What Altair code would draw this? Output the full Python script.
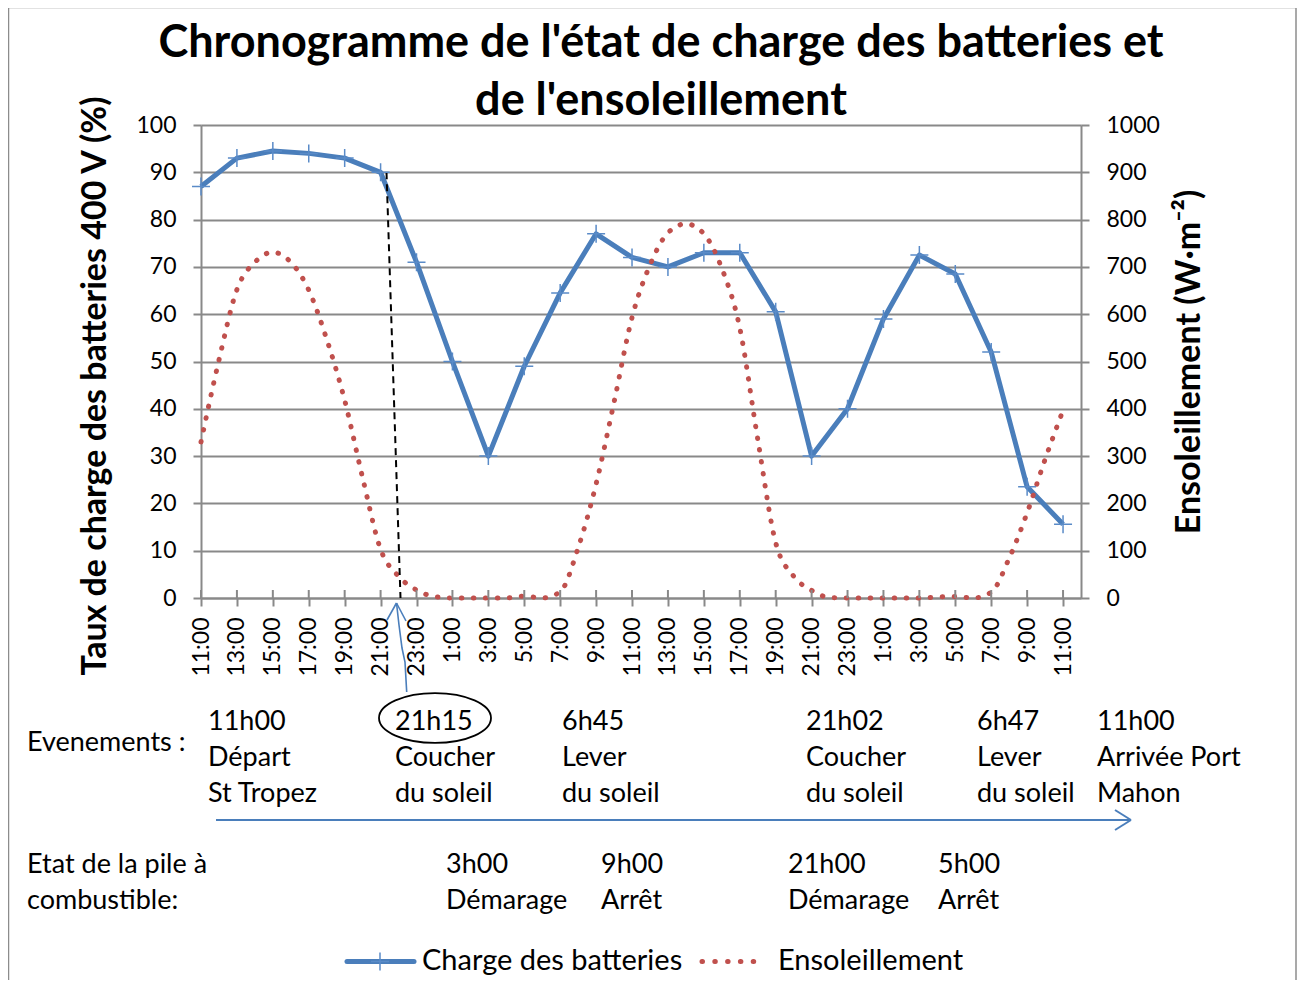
import altair as alt
import pandas as pd

# ------------------------------------------------------------------ data
x_labels = ["11:00", "13:00", "15:00", "17:00", "19:00", "21:00", "23:00", "1:00",
            "3:00", "5:00", "7:00", "9:00", "11:00", "13:00", "15:00", "17:00",
            "19:00", "21:00", "23:00", "1:00", "3:00", "5:00", "7:00", "9:00", "11:00"]
battery_hours = list(range(0, 49, 2))
battery_charge = [87, 93, 94.5, 94, 93, 90, 71, 50, 30, 49, 64.5, 77,
                  72, 70, 73, 73, 60.5, 30, 40, 59, 72.5, 68.5, 52, 23.5, 15.6]
sun_hours = list(range(0, 49))
sunlight = [330, 503, 652, 710, 731, 710, 651, 547, 418, 254, 103, 46, 17, 3, 0, 0,
            0, 0, 4, 0, 13, 106, 241, 414, 593, 704, 772, 791, 770, 697, 571, 336,
            117, 46, 16, 1, 0, 0, 0, 0, 0, 2, 3, 0, 12, 84, 180, 293, 397]

title_lines = ["Chronogramme de l'état de charge des batteries et", "de l'ensoleillement"]
y_left_title = "Taux de charge des batteries 400 V (%)"
y_right_title = "Ensoleillement (W·m⁻²)"
events_label = "Evenements :"
events = [["11h00", "Départ", " St Tropez"], ["21h15", "Coucher", "du soleil"],
          ["6h45", "Lever", "du soleil"], ["21h02", "Coucher", "du soleil"],
          ["6h47", "Lever", "du soleil"], ["11h00", "Arrivée Port", "Mahon"]]
pile_label = ["Etat de la pile à", "combustible:"]
pile = [["3h00", "Démarage"], ["9h00", "Arrêt"], ["21h00", "Démarage"], ["5h00", "Arrêt"]]
legend_names = ["Charge des batteries", "Ensoleillement"]

# ------------------------------------------------------------------ layout helpers (page pixels -> data units)
W, H = 880, 473
X0, Y0 = 201, 125
H_DOMAIN = [0, 49]
def hx(px):
    return (px - X0) / (W / H_DOMAIN[1])
def vy(py):
    return (Y0 + H - py) / (H / 100.0)

BLUE = "#4A7EBB"
RED = "#C0504D"
GRID = "#898989"
FONT = "Lato"

def xscale():
    return alt.Scale(domain=H_DOMAIN, nice=False, zero=False)

def yscale():
    return alt.Scale(domain=[0, 100], nice=False, zero=False)

label_arr = "[" + ",".join("'%s'" % s for s in x_labels) + "]"

bat_df = pd.DataFrame({"h": battery_hours, "v": battery_charge})
sun_df = pd.DataFrame({"h": sun_hours, "w": sunlight})

x_main = alt.X("h:Q", scale=xscale(),
               axis=alt.Axis(values=battery_hours, labelExpr=label_arr + "[round(datum.value/2)]",
                             labelAngle=270, grid=False, tickSize=8, tickColor=GRID, tickWidth=2,
                             domainColor=GRID, domainWidth=2, labelPadding=11, labelFontSize=23,
                             labelFont=FONT, labelColor="black", title=None, labelOverlap=False,
                             labelFlush=False, orient="bottom"))
y_main = alt.Y("v:Q", scale=yscale(),
               axis=alt.Axis(values=list(range(0, 101, 10)), grid=True, gridColor=GRID, gridWidth=2,
                             tickSize=8, tickColor=GRID, tickWidth=2, domainColor=GRID, domainWidth=2,
                             labelPadding=17, labelFontSize=23, labelFont=FONT, labelColor="black",
                             title=None, orient="left", labelOverlap=False, labelFlush=False))

bat_line = alt.Chart(bat_df).mark_line(color=BLUE, strokeWidth=5, strokeJoin="round").encode(x=x_main, y=y_main)

def ax(field):
    return alt.X(field, type="quantitative", scale=xscale(), axis=None)
def ay(field):
    return alt.Y(field, type="quantitative", scale=yscale(), axis=None)

PLUS = "M-1,0H1M0,-1V1"
bat_pts = alt.Chart(bat_df).mark_point(shape=PLUS, size=324, filled=False, strokeWidth=1.5,
                                       color="#5A8BC8", opacity=1).encode(x=ax("h"), y=ay("v"))

# inner part of x-axis ticks
tick_df = pd.DataFrame({"h": battery_hours, "v": [0] * len(battery_hours),
                        "v2": [vy(590)] * len(battery_hours)})
inner_ticks = alt.Chart(tick_df).mark_rule(color=GRID, strokeWidth=2).encode(
    x=ax("h"), y=ay("v"), y2="v2")

# dashed sunset line
dash_df = pd.DataFrame({"h": [hx(386.5)], "v": [90], "h2": [hx(400.5)], "v2": [0]})
dash_rule = alt.Chart(dash_df).mark_rule(color="black", strokeWidth=2, strokeDash=[7, 5]).encode(
    x=ax("h"), y=ay("v"), x2="h2", y2="v2")

# sunlight
sun_line = alt.Chart(sun_df).mark_line(color=RED, strokeWidth=5, strokeDash=[0.5, 11.5],
                                       strokeCap="round", interpolate="monotone").encode(
    x=ax("h"),
    y=alt.Y("w:Q", scale=alt.Scale(domain=[0, 1000], nice=False, zero=False),
            axis=alt.Axis(values=list(range(0, 1001, 100)), format="d", grid=False, tickSize=8,
                          tickColor=GRID, tickWidth=2, domainColor=GRID, domainWidth=2, labelPadding=17,
                          labelFontSize=23, labelFont=FONT, labelColor="black", title=None,
                          orient="right", labelOverlap=False, labelFlush=False)))

# ------------------------------------------------------------------ texts
texts_normal = []
ev_x = [208, 395, 562, 806, 977, 1097]
for (col, xx) in zip(events, ev_x):
    for i, line in enumerate(col):
        texts_normal.append((line, xx, 722 + 36 * i))
texts_normal.append((events_label, 27, 743))
pile_x = [446, 601, 788, 938]
for (col, xx) in zip(pile, pile_x):
    for i, line in enumerate(col):
        texts_normal.append((line, xx, 865 + 36 * i))
for i, line in enumerate(pile_label):
    texts_normal.append((line, 27, 865 + 36 * i))
tn_df = pd.DataFrame({"t": [t[0] for t in texts_normal], "h": [hx(t[1]) for t in texts_normal],
                      "v": [vy(t[2]) for t in texts_normal]})
text_layer = alt.Chart(tn_df).mark_text(font=FONT, fontSize=27, align="left", baseline="middle",
                                        color="black").encode(x=ax("h"), y=ay("v"), text="t:N")

leg_df = pd.DataFrame({"t": legend_names, "h": [hx(422), hx(778)], "v": [vy(961), vy(961)]})
leg_text = alt.Chart(leg_df).mark_text(font=FONT, fontSize=29, align="left", baseline="middle",
                                       color="black").encode(x=ax("h"), y=ay("v"), text="t:N")

title_df = pd.DataFrame({"t": title_lines, "h": [hx(661), hx(661)], "v": [vy(57), vy(115)]})
title_layer = alt.Chart(title_df).mark_text(font=FONT, fontSize=45, fontWeight="bold", align="center",
                                            baseline="alphabetic", color="black").encode(
    x=ax("h"), y=ay("v"), text="t:N")

ytl_df = pd.DataFrame({"t": [y_left_title], "h": [hx(96)], "v": [vy(386)]})
ytl = alt.Chart(ytl_df).mark_text(font=FONT, fontSize=34, fontWeight="bold", align="center",
                                  baseline="middle", angle=270, color="black").encode(
    x=ax("h"), y=ay("v"), text="t:N")
ytr_df = pd.DataFrame({"t": [y_right_title], "h": [hx(1190)], "v": [vy(362)]})
ytr = alt.Chart(ytr_df).mark_text(font=FONT, fontSize=34, fontWeight="bold", align="center",
                                  baseline="middle", angle=270, color="black").encode(
    x=ax("h"), y=ay("v"), text="t:N")

# ------------------------------------------------------------------ annotation shapes
def seg_df(segs):
    return pd.DataFrame({"h": [hx(s[0]) for s in segs], "v": [vy(s[1]) for s in segs],
                         "h2": [hx(s[2]) for s in segs], "v2": [vy(s[3]) for s in segs]})

# timeline arrow
tl = alt.Chart(seg_df([(216, 820, 1131, 820), (1115, 810, 1131, 820), (1115, 830, 1131, 820)])).mark_rule(
    color=BLUE, strokeWidth=2).encode(x=ax("h"), y=ay("v"), x2="h2", y2="v2")

# sunset pointer arrow
ptr_pts = [(406.7, 692), (405, 662), (402, 648), (399, 625), (396.5, 603)]
ptr_df = pd.DataFrame({"h": [hx(p[0]) for p in ptr_pts], "v": [vy(p[1]) for p in ptr_pts],
                       "o": list(range(len(ptr_pts)))})
ptr = alt.Chart(ptr_df).mark_line(color=BLUE, strokeWidth=1.6).encode(
    x=ax("h"), y=ay("v"), order="o:Q")
ptr_head = alt.Chart(seg_df([(387, 620, 396.5, 603), (406, 621, 396.5, 603)])).mark_rule(
    color=BLUE, strokeWidth=1.6).encode(x=ax("h"), y=ay("v"), x2="h2", y2="v2")

# ellipse around 21h15
ELL = "M-1,0A1,0.445 0 1,0 1,0A1,0.445 0 1,0 -1,0Z"
ell_df = pd.DataFrame({"h": [hx(435)], "v": [vy(718)]})
ell = alt.Chart(ell_df).mark_point(shape=ELL, size=112 * 112, filled=False, strokeWidth=1.8,
                                   color="black", opacity=1).encode(x=ax("h"), y=ay("v"))

# legend symbols
leg_blue = alt.Chart(seg_df([(347, 961.5, 414, 961.5)])).mark_rule(
    color=BLUE, strokeWidth=5, strokeCap="round").encode(x=ax("h"), y=ay("v"), x2="h2", y2="v2")
leg_plus = alt.Chart(pd.DataFrame({"h": [hx(380)], "v": [vy(961.5)]})).mark_point(
    shape=PLUS, size=18 * 18, filled=False, strokeWidth=1.5, color="#5A8BC8", opacity=1).encode(
    x=ax("h"), y=ay("v"))
leg_red = alt.Chart(seg_df([(702, 961.5, 766, 961.5)])).mark_rule(
    color=RED, strokeWidth=5, strokeDash=[0.5, 12.3], strokeCap="round").encode(
    x=ax("h"), y=ay("v"), x2="h2", y2="v2")

# outer frame
frame = alt.Chart(seg_df([(8.5, 7.5, 1296, 7.5), (8.5, 7.5, 8.5, 995), (1296, 7.5, 1296, 995)])).mark_rule(
    color="#8C8C8C", strokeWidth=1.5).encode(x=ax("h"), y=ay("v"), x2="h2", y2="v2")

chart = alt.layer(bat_line, sun_line, frame, inner_ticks, dash_rule, bat_pts, text_layer, leg_text,
                  title_layer, ytl, ytr, tl, ptr, ptr_head, ell, leg_blue, leg_plus, leg_red
                  ).resolve_scale(x="independent", y="independent").properties(
    width=W, height=H,
    autosize=alt.AutoSizeParams(type="none"),
    padding={"left": X0 - 8, "top": Y0 - 8, "right": 1289 - (X0 - 8) - W, "bottom": 972 - (Y0 - 8) - H},
).configure_view(stroke=None).configure(background="white")

chart.save("out.html", embed_options={"renderer": "svg", "actions": False})
